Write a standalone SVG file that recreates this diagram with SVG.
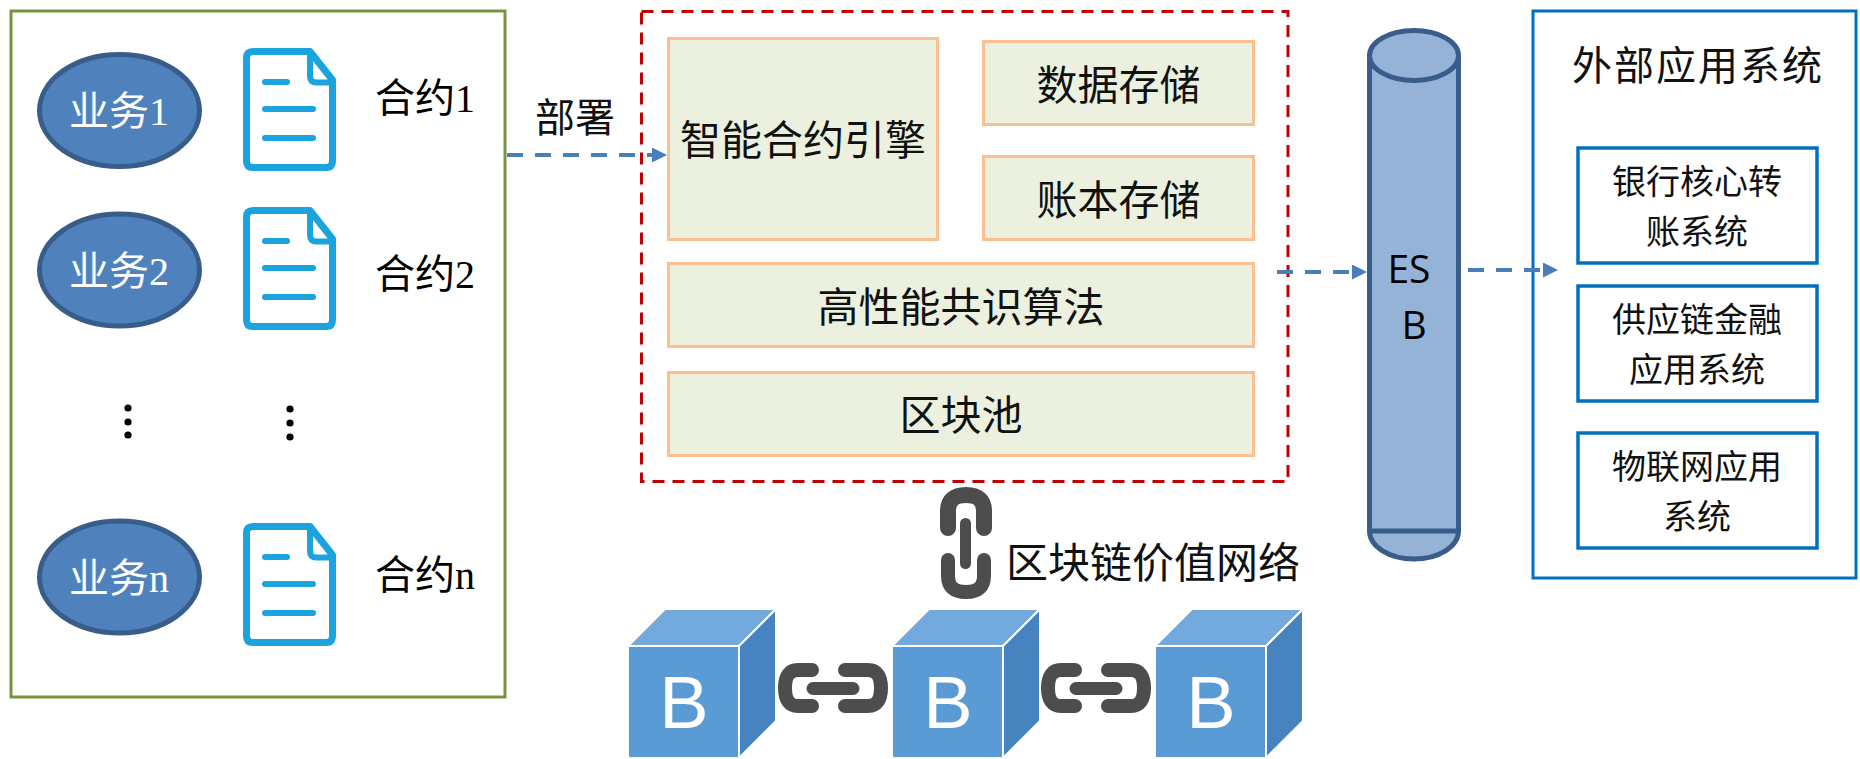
<svg xmlns="http://www.w3.org/2000/svg" xmlns:xlink="http://www.w3.org/1999/xlink" width="1860" height="759" viewBox="0 0 1860 759">
  <style>
    .serif { font-family: 'Liberation Serif', 'Noto Sans CJK SC', serif; }
    .cjk { font-family: 'Noto Sans CJK SC', sans-serif; fill: #111; }
    .biz { fill: #4F81BD; stroke: #385D8A; stroke-width: 5; }
    .biz-label { fill: #fff; font-size: 40px; text-anchor: middle; }
    .contract-label { fill: #000; font-size: 40px; }
    .dot { fill: #000; }
    .module { fill: #EBF1DE; stroke: #FAC090; stroke-width: 3; }
    .module-label { font-size: 41px; text-anchor: middle; }
    .ext-box { fill: #fff; stroke: #0070C0; stroke-width: 3.5; }
    .ext-label { font-size: 34px; text-anchor: middle; }
    .flow { fill: none; stroke: #4A7EBB; stroke-width: 4; stroke-dasharray: 16 12; }
    .link { fill: none; stroke: #4D4D4D; stroke-linecap: round; }
    .cube-front { fill: #5B9BD5; stroke: #fff; stroke-width: 2; stroke-linejoin: round; }
    .cube-top { fill: #73AADE; stroke: #fff; stroke-width: 2; stroke-linejoin: round; }
    .cube-side { fill: #4683BF; stroke: #fff; stroke-width: 2; stroke-linejoin: round; }
    .cube-label { fill: #fff; font-family: 'Liberation Sans', sans-serif; font-size: 74px; text-anchor: middle; }
  </style>
  <defs>
    <marker id="arrow" markerUnits="userSpaceOnUse" markerWidth="15" markerHeight="15" refX="3" refY="7.5" orient="auto">
      <path d="M0,0 L15,7.5 L0,15 Z" fill="#4A7EBB"/>
    </marker>
    <!-- contract document icon, 93 x 123 -->
    <g id="doc">
      <path d="M67,3.5 H10 Q3.5,3.5 3.5,10 V113 Q3.5,119.5 10,119.5 H83 Q89.5,119.5 89.5,113 V32 L67,3.5 Z" fill="#fff" stroke="#1BA3DD" stroke-width="7" stroke-linejoin="round"/>
      <path d="M67,4 V28 Q67,34.5 73.5,34.5 H89" fill="none" stroke="#1BA3DD" stroke-width="6"/>
      <g stroke="#1BA3DD" stroke-width="6" stroke-linecap="round">
        <line x1="22" y1="34" x2="44" y2="34"/>
        <line x1="22" y1="61" x2="70" y2="61"/>
        <line x1="22" y1="90" x2="70" y2="90"/>
      </g>
    </g>
    <!-- horizontal chain link between blocks -->
    <g id="hchain" class="link">
      <path d="M812,670 H798 Q785,670 785,688 Q785,706 798,706 H812" stroke-width="14"/>
      <path d="M845,670 H868 Q881,670 881,688 Q881,706 868,706 H845" stroke-width="14"/>
      <line x1="813" y1="688.5" x2="853" y2="688.5" stroke-width="13"/>
    </g>
    <!-- block cube, front face 111 x 112, depth 37 -->
    <g id="cube">
      <polygon class="cube-top" points="0,0 37,-37 148,-37 111,0"/>
      <polygon class="cube-side" points="111,0 148,-37 148,75 111,112"/>
      <rect class="cube-front" x="0" y="0" width="111" height="112"/>
      <text class="cube-label" x="56" y="82">B</text>
    </g>
  </defs>

  <rect width="1860" height="759" fill="#fff"/>

  <!-- business / contract panel -->
  <g id="business-panel">
    <rect x="11" y="11" width="494" height="686" fill="#fff" stroke="#77933C" stroke-width="3"/>
  </g>
  <g id="biz-1" class="serif">
    <ellipse class="biz" cx="119.5" cy="110.5" rx="80" ry="56"/>
    <text class="biz-label" x="119" y="125">业务1</text>
  </g>
  <g id="biz-2" class="serif">
    <ellipse class="biz" cx="119.5" cy="270" rx="80" ry="56"/>
    <text class="biz-label" x="119" y="285">业务2</text>
  </g>
  <g id="biz-n" class="serif">
    <ellipse class="biz" cx="119.5" cy="577" rx="80" ry="56"/>
    <text class="biz-label" x="119" y="592">业务n</text>
  </g>
  <g id="contract-1" class="serif">
    <use xlink:href="#doc" href="#doc" transform="translate(243,48)"/>
    <text class="contract-label" x="375" y="112">合约1</text>
  </g>
  <g id="contract-2" class="serif">
    <use xlink:href="#doc" href="#doc" transform="translate(243,207)"/>
    <text class="contract-label" x="375" y="288">合约2</text>
  </g>
  <g id="contract-n" class="serif">
    <use xlink:href="#doc" href="#doc" transform="translate(243,523)"/>
    <text class="contract-label" x="375" y="589">合约n</text>
  </g>
  <g id="ellipsis">
    <circle class="dot" cx="128" cy="408" r="3.6"/>
    <circle class="dot" cx="128" cy="422" r="3.6"/>
    <circle class="dot" cx="128" cy="435" r="3.6"/>
    <circle class="dot" cx="290" cy="409" r="3.6"/>
    <circle class="dot" cx="290" cy="423" r="3.6"/>
    <circle class="dot" cx="290" cy="437" r="3.6"/>
  </g>

  <!-- blockchain platform -->
  <g id="platform">
    <rect x="641.5" y="11.5" width="646.5" height="470" fill="none" stroke="#C00000" stroke-width="3" stroke-dasharray="12 8"/>
  </g>
  <g id="contract-engine" class="cjk">
    <rect class="module" x="668.5" y="38.5" width="269" height="201"/>
    <text class="module-label" x="803" y="155">智能合约引擎</text>
  </g>
  <g id="data-storage" class="cjk">
    <rect class="module" x="983.5" y="41.5" width="270" height="83"/>
    <text class="module-label" x="1118.5" y="100">数据存储</text>
  </g>
  <g id="ledger-storage" class="cjk">
    <rect class="module" x="983.5" y="156.5" width="270" height="83"/>
    <text class="module-label" x="1118.5" y="215">账本存储</text>
  </g>
  <g id="consensus" class="cjk">
    <rect class="module" x="668.5" y="263.5" width="585" height="83"/>
    <text class="module-label" x="961" y="322">高性能共识算法</text>
  </g>
  <g id="block-pool" class="cjk">
    <rect class="module" x="668.5" y="372.5" width="585" height="83"/>
    <text class="module-label" x="961" y="430">区块池</text>
  </g>

  <!-- enterprise service bus -->
  <g id="esb">
    <path d="M1369.5,55.5 V531 A44.5,28 0 0 0 1458.5,531 V55.5 Z" fill="#95B3D7" stroke="#385D8A" stroke-width="5" stroke-linejoin="round"/>
    <line x1="1369.5" y1="531" x2="1458.5" y2="531" stroke="#385D8A" stroke-width="5"/>
    <ellipse cx="1414" cy="55.5" rx="44.5" ry="25" fill="#95B3D7" stroke="#385D8A" stroke-width="5"/>
    <text font-family="'Open Sans', sans-serif" font-size="39" text-anchor="middle" fill="#000">
      <tspan x="1414" y="283">ES</tspan>
      <tspan x="1414" y="339">B</tspan>
    </text>
  </g>

  <!-- external application systems -->
  <g id="external-systems" class="cjk">
    <rect x="1533" y="11" width="323" height="567" fill="#fff" stroke="#0070C0" stroke-width="3"/>
    <text x="1698" y="80" font-size="40" letter-spacing="2" text-anchor="middle">外部应用系统</text>
  </g>
  <g id="bank-core" class="cjk">
    <rect class="ext-box" x="1578" y="148" width="239" height="115"/>
    <text class="ext-label"><tspan x="1697" y="194">银行核心转</tspan><tspan x="1697" y="244">账系统</tspan></text>
  </g>
  <g id="supply-chain" class="cjk">
    <rect class="ext-box" x="1578" y="286" width="239" height="115"/>
    <text class="ext-label"><tspan x="1697" y="332">供应链金融</tspan><tspan x="1697" y="382">应用系统</tspan></text>
  </g>
  <g id="iot" class="cjk">
    <rect class="ext-box" x="1578" y="433" width="239" height="115"/>
    <text class="ext-label"><tspan x="1697" y="479">物联网应用</tspan><tspan x="1697" y="529">系统</tspan></text>
  </g>

  <!-- blockchain value network -->
  <g id="value-network">
    <g class="link">
      <path d="M948,528 V511 Q948,495 966,495 Q984,495 984,511 V528" stroke-width="16"/>
      <path d="M948,560 V576 Q948,592 966,592 Q984,592 984,576 V560" stroke-width="14"/>
      <line x1="965.5" y1="523.5" x2="965.5" y2="563.5" stroke-width="11"/>
    </g>
    <text class="cjk" x="1006" y="578" font-size="42">区块链价值网络</text>
  </g>
  <g id="block-1">
    <use xlink:href="#cube" href="#cube" transform="translate(628,646)"/>
  </g>
  <g id="block-2">
    <use xlink:href="#cube" href="#cube" transform="translate(892,646)"/>
  </g>
  <g id="block-3">
    <use xlink:href="#cube" href="#cube" transform="translate(1155,646)"/>
  </g>
  <g id="block-links">
    <use xlink:href="#hchain" href="#hchain"/>
    <use xlink:href="#hchain" href="#hchain" transform="translate(263,0)"/>
  </g>

  <!-- connectors -->
  <g id="connectors">
    <text class="cjk" x="575" y="132" font-size="40" text-anchor="middle">部署</text>
    <line class="flow" x1="507" y1="155" x2="655" y2="155" marker-end="url(#arrow)"/>
    <line class="flow" x1="1277" y1="272" x2="1355" y2="272" marker-end="url(#arrow)"/>
    <line class="flow" x1="1468" y1="270" x2="1546" y2="270" marker-end="url(#arrow)"/>
  </g>
</svg>
